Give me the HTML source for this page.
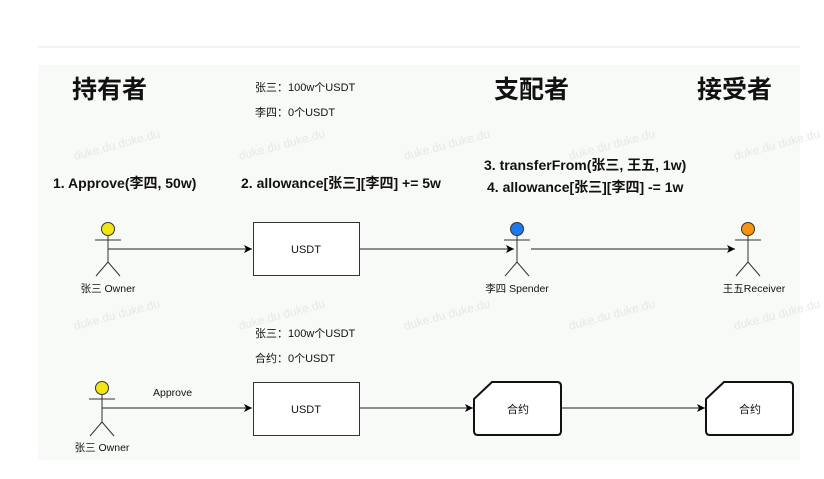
<!DOCTYPE html>
<html><head><meta charset="utf-8"><style>
html,body{margin:0;padding:0;background:#fff;width:824px;height:479px;overflow:hidden}
svg text{font-family:"Liberation Sans","Noto Sans CJK SC",sans-serif}
</style></head><body>
<svg width="824" height="479" viewBox="0 0 824 479" xmlns="http://www.w3.org/2000/svg">
<defs><marker id="a" markerWidth="10" markerHeight="10" refX="8" refY="5" orient="auto" markerUnits="userSpaceOnUse"><path d="M0,1 L8,5 L0,9 L2,5 Z" fill="#000"/></marker></defs>
<line x1="38" y1="47" x2="800" y2="47" stroke="#e6e6e6" stroke-width="1"/>
<rect x="38" y="65" width="762" height="395" fill="#f8faf7"/>
<g fill="#e6e8e5" font-size="12">
<text x="75" y="160" transform="rotate(-15 75 160)">duke.du duke.du</text>
<text x="240" y="160" transform="rotate(-15 240 160)">duke.du duke.du</text>
<text x="405" y="160" transform="rotate(-15 405 160)">duke.du duke.du</text>
<text x="570" y="160" transform="rotate(-15 570 160)">duke.du duke.du</text>
<text x="735" y="160" transform="rotate(-15 735 160)">duke.du duke.du</text>
<text x="75" y="330" transform="rotate(-15 75 330)">duke.du duke.du</text>
<text x="240" y="330" transform="rotate(-15 240 330)">duke.du duke.du</text>
<text x="405" y="330" transform="rotate(-15 405 330)">duke.du duke.du</text>
<text x="570" y="330" transform="rotate(-15 570 330)">duke.du duke.du</text>
<text x="735" y="330" transform="rotate(-15 735 330)">duke.du duke.du</text>
</g>
<g font-weight="bold" font-size="25" fill="#111">
<text x="72" y="98">持有者</text>
<text x="494" y="98">支配者</text>
<text x="697" y="98">接受者</text>
</g>
<g font-size="11" fill="#111">
<text x="255" y="91">张三：100w个USDT</text>
<text x="255" y="116">李四：0个USDT</text>
<text x="255" y="337">张三：100w个USDT</text>
<text x="255" y="362">合约：0个USDT</text>
</g>
<g font-weight="bold" font-size="14" fill="#111">
<text x="53" y="188">1. Approve(李四, 50w)</text>
<text x="241" y="188">2. allowance[张三][李四] += 5w</text>
<text x="484" y="170">3. transferFrom(张三, 王五, 1w)</text>
<text x="487" y="192">4. allowance[张三][李四] -= 1w</text>
</g>
<g stroke="#333" stroke-width="1" fill="none">
<path d="M108,235 V262 M95,240 H121 M108,262 L96,276 M108,262 L120,276"/>
<path d="M517,236 V262 M504,240 H530 M517,262 L505,276 M517,262 L529,276"/>
<path d="M748,236 V262 M735,240 H761 M748,262 L736,276 M748,262 L760,276"/>
<path d="M102,395 V422 M89,399 H115 M102,422 L90,436 M102,422 L114,436"/>
</g>
<circle cx="108" cy="229" r="6.5" fill="#f0e614" stroke="#333"/>
<circle cx="517" cy="229" r="6.5" fill="#1e78f0" stroke="#333"/>
<circle cx="748" cy="229" r="6.5" fill="#f7930f" stroke="#333"/>
<circle cx="102" cy="388" r="6.5" fill="#f0e614" stroke="#333"/>
<g font-size="10.5" fill="#111" text-anchor="middle">
<text x="108" y="292">张三 Owner</text>
<text x="517" y="292">李四 Spender</text>
<text x="754" y="292">王五Receiver</text>
<text x="102" y="451">张三 Owner</text>
</g>
<rect x="253.5" y="222.5" width="106" height="53" fill="#fff" stroke="#333"/>
<rect x="253.5" y="382.5" width="106" height="53" fill="#fff" stroke="#333"/>
<path d="M492,382 H557 Q561,382 561,386 V431 Q561,435 557,435 H478 Q474,435 474,431 V399 Z" fill="#fff" stroke="#111" stroke-width="2"/>
<path d="M724,382 H789 Q793,382 793,386 V431 Q793,435 789,435 H710 Q706,435 706,431 V399 Z" fill="#fff" stroke="#111" stroke-width="2"/>
<g font-size="11" fill="#111" text-anchor="middle">
<text x="306" y="253">USDT</text>
<text x="306" y="413">USDT</text>
<text x="518" y="413">合约</text>
<text x="750" y="413">合约</text>
</g>
<text x="153" y="396" font-size="10.5" fill="#111">Approve</text>
<g stroke="#222" stroke-width="1" marker-end="url(#a)">
<line x1="108" y1="249" x2="252" y2="249"/>
<line x1="360" y1="249" x2="514" y2="249"/>
<line x1="531" y1="249" x2="735" y2="249"/>
<line x1="102" y1="408" x2="252" y2="408"/>
<line x1="360" y1="408" x2="473" y2="408"/>
<line x1="562" y1="408" x2="705" y2="408"/>
</g>
</svg>
</body></html>
